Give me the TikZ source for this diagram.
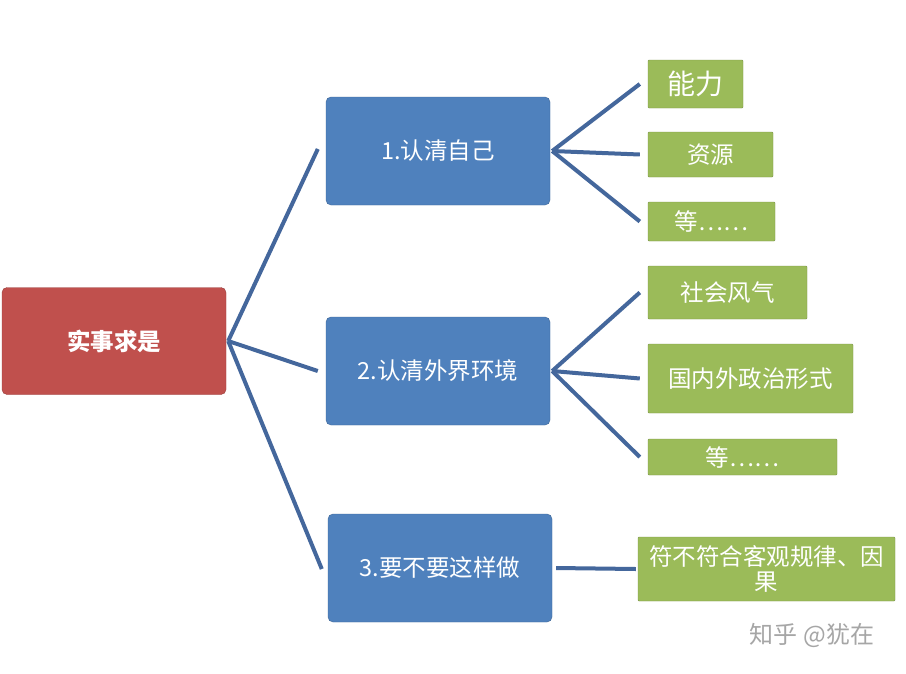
\documentclass[tikz,border=0pt]{standalone}
\usepackage{fontspec}
\setmainfont{Noto Sans CJK SC}
\definecolor{rd}{HTML}{C0504D}
\definecolor{bl}{HTML}{4F81BD}
\definecolor{gr}{HTML}{9BBB59}
\definecolor{ln}{HTML}{44679C}
\begin{document}
\begin{tikzpicture}[x=1pt,y=-1pt,
  box/.style={rounded corners=5pt,inner sep=0pt,text=white,font=\fontsize{23.5}{26}\selectfont},
  rbox/.style={box,fill=rd,draw=rd!80!black,minimum width=224pt,minimum height=107pt,font=\bfseries\fontsize{23.5}{26}\selectfont},
  bbox/.style={box,fill=bl,draw=bl!80!black,minimum width=224pt,minimum height=108pt},
  gbox/.style={box,rounded corners=1pt,fill=gr,draw=gr!80!black,align=center},
  con/.style={ln,line width=4pt}]
\useasboundingbox (0,0) rectangle (906,673);
\fill[white] (0,0) rectangle (906,673);
\node[rbox] (root) at (114,341) {实事求是};
\node[bbox] (b1) at (438,151) {1.认清自己};
\node[bbox] (b2) at (438,371) {2.认清外界环境};
\node[bbox] (b3) at (440,568) {3.要不要这样做};
\node[gbox,minimum width=95pt,minimum height=48pt,font=\fontsize{28}{30}\selectfont] (g1) at (695.5,84) {能力};
\node[gbox,minimum width=125pt,minimum height=45pt] (g2) at (710.5,154.5) {资源};
\node[gbox,minimum width=127pt,minimum height=39pt] (g3) at (711.5,221.5) {等……};
\node[gbox,minimum width=159pt,minimum height=53pt] (g4) at (727.5,292.5) {社会风气};
\node[gbox,minimum width=257pt,minimum height=64pt,font=\fontsize{23.5}{25}\selectfont] (g7) at (766.5,569) {符不符合客观规律、因\\果};
\node[gbox,minimum width=205pt,minimum height=69pt] (g5) at (750.5,378.5) {国内外政治形式};
\node[gbox,minimum width=189pt,minimum height=36pt] (g6) at (742.5,457) {等……};
\coordinate (rs) at ([xshift=2pt]root.east);
\draw[con] (rs) -- ([xshift=-8pt,yshift=2pt]b1.west);
\draw[con] (rs) -- ([xshift=-8pt]b2.west);
\draw[con] (rs) -- ([xshift=-6pt,yshift=-1pt]b3.west);
\coordinate (s1) at ([xshift=2pt]b1.east);
\draw[con] (s1) -- ([xshift=-8pt]g1.west);
\draw[con] (s1) -- ([xshift=-8pt]g2.west);
\draw[con] (s1) -- ([xshift=-8pt]g3.west);
\coordinate (s2) at ([xshift=2pt]b2.east);
\draw[con] (s2) -- ([xshift=-8pt]g4.west);
\draw[con] (s2) -- ([xshift=-8pt]g5.west);
\draw[con] (s2) -- ([xshift=-8pt]g6.west);
\draw[con] ([xshift=4pt]b3.east) -- ([xshift=-2pt]g7.west);
\node[text=gray!70,font=\fontsize{24}{26}\selectfont] (wm) at (812,635) {知乎 @犹在};
\end{tikzpicture}
\end{document}
